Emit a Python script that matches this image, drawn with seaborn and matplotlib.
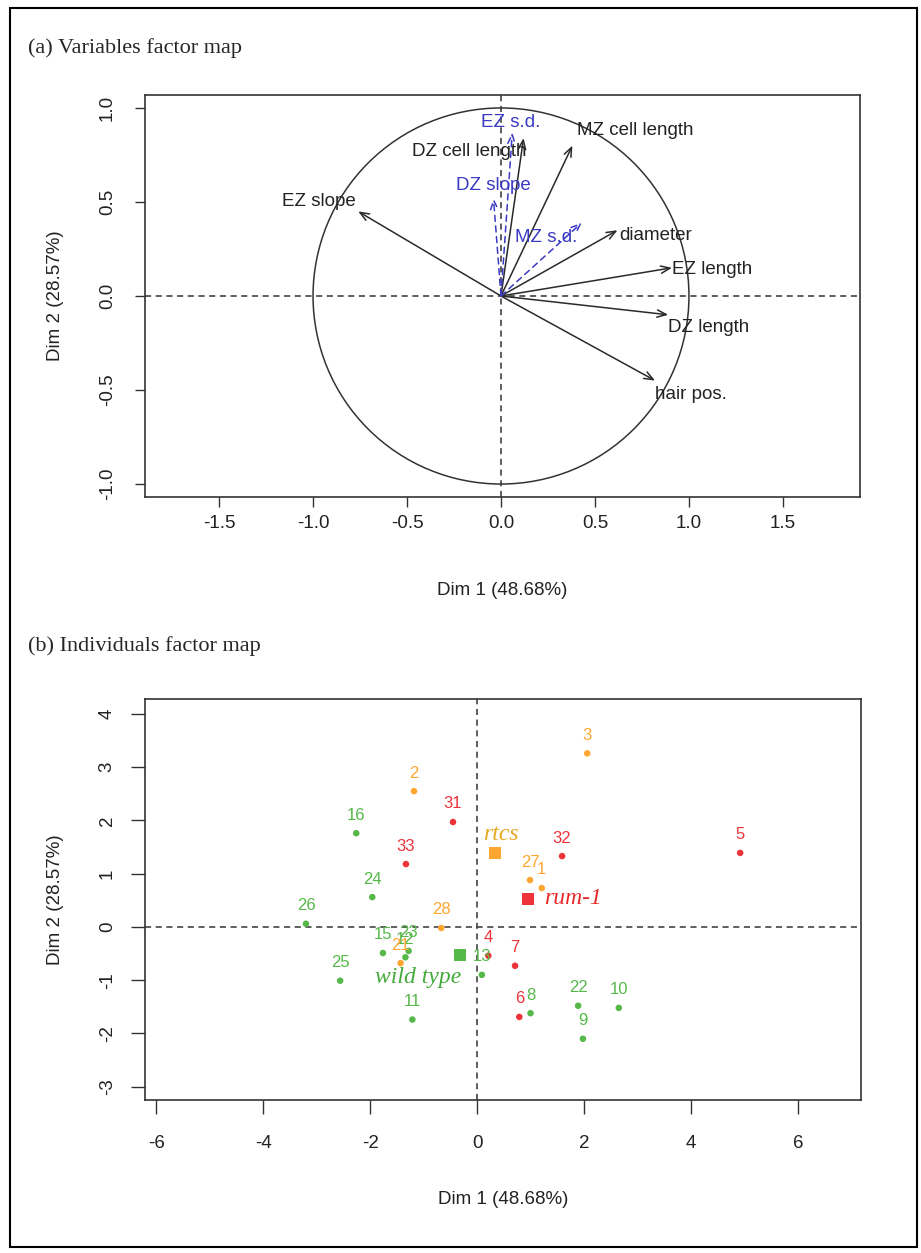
import matplotlib
matplotlib.use('Agg')
import matplotlib.pyplot as plt
from matplotlib.patches import Circle, Rectangle
import pandas as pd
import seaborn as sns

# (a) active variables: coordinates on Dim 1 / Dim 2
var_names = ['EZ slope', 'DZ cell length', 'MZ cell length', 'diameter',
             'EZ length', 'DZ length', 'hair pos.']
var_dim1 = [-0.76, 0.12, 0.38, 0.62, 0.91, 0.89, 0.82]
var_dim2 = [0.45, 0.84, 0.80, 0.35, 0.15, -0.10, -0.45]

# supplementary variables (blue, dashed)
sup_names = ['EZ s.d.', 'DZ slope', 'MZ s.d.']
sup_dim1 = [0.06, -0.04, 0.43]
sup_dim2 = [0.87, 0.52, 0.39]

# (b) individuals
ind_labels = ['16', '24', '26', '25', '15', '23', '12', '11', '13', '8', '22', '9', '10',
              '2', '3', '28', '21', '27', '1',
              '31', '33', '32', '5', '4', '7', '6']
ind_dim1 = [-2.26, -1.96, -3.20, -2.56, -1.76, -1.28, -1.34, -1.21, 0.09, 1.00, 1.89, 1.98, 2.65,
            -1.18, 2.06, -0.67, -1.43, 0.99, 1.21,
            -0.45, -1.33, 1.59, 4.92, 0.21, 0.71, 0.79]
ind_dim2 = [1.76, 0.56, 0.06, -1.01, -0.49, -0.45, -0.57, -1.74, -0.90, -1.62, -1.48, -2.10, -1.52,
            2.55, 3.26, -0.02, -0.68, 0.88, 0.73,
            1.97, 1.18, 1.33, 1.39, -0.54, -0.73, -1.69]
ind_group = ['wild type'] * 13 + ['rtcs'] * 6 + ['rum-1'] * 7

group_names = ['wild type', 'rtcs', 'rum-1']
group_dim1 = [-0.32, 0.34, 0.95]
group_dim2 = [-0.53, 1.39, 0.53]

palette = {'wild type': '#55b848', 'rtcs': '#ffa630', 'rum-1': '#ee3338'}
label_colors = {'wild type': '#44aa3c', 'rtcs': '#e8a820', 'rum-1': '#e82828'}

sns.set_theme(style='ticks')
plt.rcParams['font.family'] = ['Liberation Sans', 'DejaVu Sans']
plt.rcParams['axes.edgecolor'] = '#333333'
plt.rcParams['axes.linewidth'] = 1.2
plt.rcParams['axes.unicode_minus'] = False

W, H = 921, 1253
fig = plt.figure(figsize=(W / 100, H / 100), dpi=100)
fig.patches.append(Rectangle((10 / W, 1 - 1247 / H), 907 / W, 1239 / H, transform=fig.transFigure,
                             fill=False, lw=1.5, ec='black'))

serif = 'Liberation Serif'
fig.text(28 / W, 1 - 48 / H, '(a) Variables factor map', family=serif, fontsize=16, va='center')
fig.text(28 / W, 1 - 646 / H, '(b) Individuals factor map', family=serif, fontsize=16, va='center')


def style_axes(ax, tick_len, xpad, ypad):
    for s in ax.spines.values():
        s.set_visible(True)
        s.set_color('#333333')
    ax.tick_params(axis='both', length=tick_len, width=1, color='#333333', labelsize=13.5,
                   labelcolor='#222222')
    ax.tick_params(axis='x', pad=xpad)
    ax.tick_params(axis='y', pad=ypad, labelrotation=90)
    for t in ax.get_yticklabels():
        t.set_va('center')
    ax.axhline(0, ls=(0, (4, 3)), color='#333333', lw=1.1)
    ax.axvline(0, ls=(0, (4, 3)), color='#333333', lw=1.1)


# ---------- (a) variables factor map ----------
ax1 = fig.add_axes([145 / W, 1 - 497 / H, 715 / W, 402 / H])
ax1.set_xlim(-1.894, 1.910)
ax1.set_ylim(-1.069, 1.069)
ax1.add_patch(Circle((0, 0), 1, fill=False, ec='#333333', lw=1.1))

var_df = pd.DataFrame({'name': var_names, 'dim1': var_dim1, 'dim2': var_dim2})
sup_df = pd.DataFrame({'name': sup_names, 'dim1': sup_dim1, 'dim2': sup_dim2})

# label placement: (dx, dy) in points and alignment
var_text = {'EZ slope': (-2, 7, 'right'), 'DZ cell length': (2, -10, 'right'),
            'MZ cell length': (3, 11, 'left'), 'diameter': (1, -4, 'left'),
            'EZ length': (0, -1, 'left'), 'DZ length': (0, -9, 'left'),
            'hair pos.': (0, -10, 'left')}
sup_text = {'EZ s.d.': (-1, 7, 'center'), 'DZ slope': (0, 9, 'center'),
            'MZ s.d.': (-3, -11, 'right')}

for _, r in var_df.iterrows():
    ax1.annotate('', xy=(r.dim1, r.dim2), xytext=(0, 0),
                 arrowprops=dict(arrowstyle='->,head_length=0.55,head_width=0.22',
                                 color='#2a2a2a', lw=1.1, shrinkA=0, shrinkB=0))
    dx, dy, ha = var_text[r['name']]
    ax1.annotate(r['name'], xy=(r.dim1, r.dim2), xytext=(dx, dy), textcoords='offset points',
                 ha=ha, va='center', fontsize=13.5, color='#222222')

for _, r in sup_df.iterrows():
    ax1.annotate('', xy=(r.dim1, r.dim2), xytext=(0, 0),
                 arrowprops=dict(arrowstyle='->,head_length=0.55,head_width=0.22',
                                 color='#3a3ac4', lw=1.1, ls=(0, (4, 3)), shrinkA=0, shrinkB=0))
    dx, dy, ha = sup_text[r['name']]
    ax1.annotate(r['name'], xy=(r.dim1, r.dim2), xytext=(dx, dy), textcoords='offset points',
                 ha=ha, va='center', fontsize=13.5, color='#3a3ac4')

ax1.set_xticks([-1.5, -1.0, -0.5, 0.0, 0.5, 1.0, 1.5])
ax1.set_xticklabels(['-1.5', '-1.0', '-0.5', '0.0', '0.5', '1.0', '1.5'])
ax1.set_yticks([-1.0, -0.5, 0.0, 0.5, 1.0])
ax1.set_yticklabels(['-1.0', '-0.5', '0.0', '0.5', '1.0'])
style_axes(ax1, 7, 6, 14)
ax1.set_xlabel('Dim 1 (48.68%)', fontsize=13.5, labelpad=36, color='#222222')
ax1.set_ylabel('Dim 2 (28.57%)', fontsize=13.5, labelpad=25, color='#222222')

# ---------- (b) individuals factor map ----------
ax2 = fig.add_axes([145 / W, 1 - 1100 / H, 716 / W, 401 / H])
ind_df = pd.DataFrame({'label': ind_labels, 'dim1': ind_dim1, 'dim2': ind_dim2,
                       'group': ind_group})
grp_df = pd.DataFrame({'group': group_names, 'dim1': group_dim1, 'dim2': group_dim2})

sns.scatterplot(data=ind_df, x='dim1', y='dim2', hue='group', palette=palette,
                s=22, edgecolor='none', legend=False, ax=ax2, zorder=3)
sns.scatterplot(data=grp_df, x='dim1', y='dim2', hue='group', palette=palette, marker='s',
                s=70, edgecolor='none', legend=False, ax=ax2, zorder=3)

for _, r in ind_df.iterrows():
    ax2.annotate(r['label'], xy=(r.dim1, r.dim2), xytext=(0, 13), textcoords='offset points',
                 ha='center', va='center', fontsize=12, color=palette[r.group])

grp_text = {'wild type': (-30, -16, 'center'), 'rtcs': (4, 13, 'center'),
            'rum-1': (12, 0, 'left')}
for _, r in grp_df.iterrows():
    dx, dy, ha = grp_text[r.group]
    ax2.annotate(r.group, xy=(r.dim1, r.dim2), xytext=(dx, dy), textcoords='offset points',
                 ha=ha, va='center', fontsize=17, family=serif, style='italic',
                 color=label_colors[r.group])

ax2.set_xlim(-6.21, 7.18)
ax2.set_ylim(-3.25, 4.28)
ax2.set_xticks([-6, -4, -2, 0, 2, 4, 6])
ax2.set_yticks([-3, -2, -1, 0, 1, 2, 3, 4])
style_axes(ax2, 10, 15, 11)
ax2.set_xlabel('Dim 1 (48.68%)', fontsize=13.5, labelpad=28, color='#222222')
ax2.set_ylabel('Dim 2 (28.57%)', fontsize=13.5, labelpad=25, color='#222222')

fig.savefig('out.png', dpi=100)
